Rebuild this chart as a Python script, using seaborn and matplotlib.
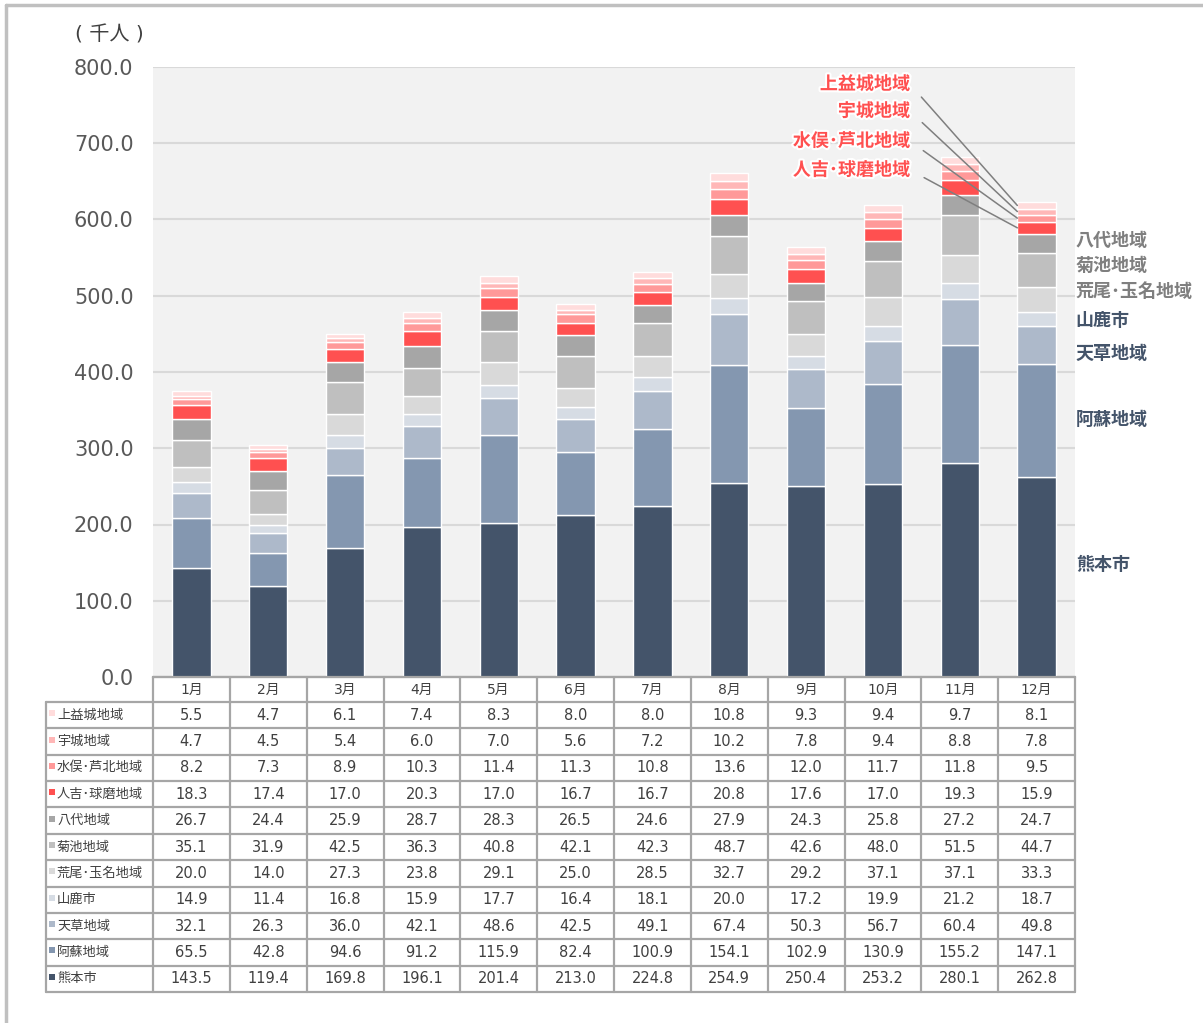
import numpy as np
import pandas as pd
import matplotlib
matplotlib.use("Agg")
import matplotlib.pyplot as plt
from matplotlib.lines import Line2D
import matplotlib.patheffects as pe
import seaborn as sns

# ---------------- data ----------------
months = ["1月", "2月", "3月", "4月", "5月", "6月", "7月", "8月", "9月", "10月", "11月", "12月"]

# stacking order: bottom -> top
regions = ["熊本市", "阿蘇地域", "天草地域", "山鹿市", "荒尾･玉名地域", "菊池地域",
           "八代地域", "人吉･球磨地域", "水俣･芦北地域", "宇城地域", "上益城地域"]

kumamoto    = [143.5, 119.4, 169.8, 196.1, 201.4, 213.0, 224.8, 254.9, 250.4, 253.2, 280.1, 262.8]
aso         = [65.5, 42.8, 94.6, 91.2, 115.9, 82.4, 100.9, 154.1, 102.9, 130.9, 155.2, 147.1]
amakusa     = [32.1, 26.3, 36.0, 42.1, 48.6, 42.5, 49.1, 67.4, 50.3, 56.7, 60.4, 49.8]
yamaga      = [14.9, 11.4, 16.8, 15.9, 17.7, 16.4, 18.1, 20.0, 17.2, 19.9, 21.2, 18.7]
arao_tamana = [20.0, 14.0, 27.3, 23.8, 29.1, 25.0, 28.5, 32.7, 29.2, 37.1, 37.1, 33.3]
kikuchi     = [35.1, 31.9, 42.5, 36.3, 40.8, 42.1, 42.3, 48.7, 42.6, 48.0, 51.5, 44.7]
yatsushiro  = [26.7, 24.4, 25.9, 28.7, 28.3, 26.5, 24.6, 27.9, 24.3, 25.8, 27.2, 24.7]
hitoyoshi   = [18.3, 17.4, 17.0, 20.3, 17.0, 16.7, 16.7, 20.8, 17.6, 17.0, 19.3, 15.9]
minamata    = [8.2, 7.3, 8.9, 10.3, 11.4, 11.3, 10.8, 13.6, 12.0, 11.7, 11.8, 9.5]
uki         = [4.7, 4.5, 5.4, 6.0, 7.0, 5.6, 7.2, 10.2, 7.8, 9.4, 8.8, 7.8]
kamimashiki = [5.5, 4.7, 6.1, 7.4, 8.3, 8.0, 8.0, 10.8, 9.3, 9.4, 9.7, 8.1]

series = [kumamoto, aso, amakusa, yamaga, arao_tamana, kikuchi,
          yatsushiro, hitoyoshi, minamata, uki, kamimashiki]

colors = ["#44546a", "#8497b0", "#adb9ca", "#d6dce4", "#d9d9d9", "#bfbfbf",
          "#a6a6a6", "#ff5050", "#ff9999", "#ffb7b7", "#ffdcdc"]

yticks = [0, 100, 200, 300, 400, 500, 600, 700, 800]

# ---------------- style ----------------
sns.set_theme(style="white")
plt.rcParams["font.family"] = ["DejaVu Sans", "Noto Sans CJK JP"]
CJK = ["Noto Sans CJK JP", "DejaVu Sans"]

W, H = 1203, 1023
fig = plt.figure(figsize=(W / 100, H / 100), dpi=100)
fig.patch.set_facecolor("white")

PL, PR, PT, PB = 153, 1075, 67, 677   # plot area in pixels
ax = fig.add_axes([PL / W, 1 - PB / H, (PR - PL) / W, (PB - PT) / H])
ax.set_facecolor("#f2f2f2")

df = pd.DataFrame({"month": months})
bottom = np.zeros(len(months))
for name, vals, col in zip(regions, series, colors):
    df["v"] = vals
    sns.barplot(data=df, x="month", y="v", order=months, color=col, saturation=1,
                width=0.5, bottom=bottom, edgecolor="white", linewidth=1.0,
                ax=ax, zorder=3)
    bottom = bottom + np.array(vals)

ax.set_xlim(-0.5, len(months) - 0.5)
ax.set_ylim(0, 800)
ax.set_yticks(yticks)
ax.set_yticklabels([f"{t:.1f}" for t in yticks], fontsize=15, color="#595959")
ax.tick_params(axis="y", length=0, pad=14)
ax.set_xticks([])
ax.set_xlabel("")
ax.set_ylabel("")
ax.grid(axis="y", color="#d9d9d9", linewidth=1.5, zorder=0)
ax.set_axisbelow(True)
for s in ["left", "right", "top"]:
    ax.spines[s].set_visible(False)
ax.spines["bottom"].set_color("#8c8c8c")
ax.spines["bottom"].set_linewidth(1.5)

# unit label
fig.text(75 / W, 1 - 35 / H, "( 千人 )", fontsize=14.5, color="#404040", va="center",
         ha="left")

# ---------------- right side labels ----------------
last = len(months) - 1
cum_last = np.cumsum([s[last] for s in series])
mids_last = cum_last - np.array([s[last] for s in series]) / 2

right_labels = {"熊本市": 147, "阿蘇地域": 338, "天草地域": 424, "山鹿市": 467,
                "荒尾･玉名地域": 506, "菊池地域": 540, "八代地域": 572}
for name, ypos in right_labels.items():
    col = "#44546a" if name in ("熊本市", "阿蘇地域", "天草地域", "山鹿市") else "#7f7f7f"
    ax.text(last + 0.51, ypos, name, ha="left", va="center", fontsize=13,
            fontweight="bold", color=col, clip_on=False, family=CJK)

# red labels with leader lines
red_labels = {"上益城地域": 777.7, "宇城地域": 742.3, "水俣･芦北地域": 703.0, "人吉･球磨地域": 665.0}
for name, ypos in red_labels.items():
    i = regions.index(name)
    ax.annotate(name, xy=(last - 0.25, mids_last[i]), xytext=(9.35, ypos),
                textcoords="data", ha="right", va="center", fontsize=13,
                fontweight="bold", color="#ff5050", zorder=5, family=CJK,
                path_effects=[pe.withStroke(linewidth=3, foreground="white")],
                arrowprops=dict(arrowstyle="-", color="#7f7f7f", lw=1.1,
                                relpos=(1, 0.5), shrinkA=9, shrinkB=0))

# ---------------- data table ----------------
TL, TR, TT, TB = 46, 1075, 677, 992
tab = fig.add_axes([TL / W, 1 - TB / H, (TR - TL) / W, (TB - TT) / H])
tab.set_xlim(TL, TR)
tab.set_ylim(TB, TT)
tab.axis("off")

ncol = len(months)
col_edges = PL + np.arange(ncol + 1) * (PR - PL) / ncol
col_cent = (col_edges[:-1] + col_edges[1:]) / 2
hdr_bottom = 702
nrow = len(regions)
row_edges = hdr_bottom + np.arange(nrow + 1) * (TB - hdr_bottom) / nrow
row_cent = (row_edges[:-1] + row_edges[1:]) / 2

gcol = "#a6a6a6"
glw = 1.6
tab.plot([PL, PR], [TT, TT], color=gcol, lw=glw, clip_on=False)
for y in row_edges:
    tab.plot([TL, PR], [y, y], color=gcol, lw=glw, clip_on=False)
tab.plot([TL, TL], [hdr_bottom, TB], color=gcol, lw=glw, clip_on=False)
for x in col_edges:
    tab.plot([x, x], [TT, TB], color=gcol, lw=glw, clip_on=False)

for j, m in enumerate(months):
    tab.text(col_cent[j], (TT + hdr_bottom) / 2, m, ha="center", va="center",
             fontsize=10, color="#404040")

table_order = list(range(nrow))[::-1]   # top row = top of stack
for r, i in enumerate(table_order):
    yc = row_cent[r]
    tab.plot([TL + 6], [yc - 2], marker="s", markersize=4, color=colors[i],
             markeredgewidth=0, clip_on=False)
    tab.text(TL + 11, yc, regions[i], ha="left", va="center", fontsize=9.5,
             color="#404040", family=CJK)
    for j in range(ncol):
        tab.text(col_cent[j], yc, f"{series[i][j]:.1f}", ha="center", va="center",
                 fontsize=10.5, color="#404040")

# outer frame (top and left)
fig.add_artist(Line2D([6 / W, 1], [1 - 5 / H, 1 - 5 / H], transform=fig.transFigure,
                      color="#c0c0c0", lw=2.5))
fig.add_artist(Line2D([6 / W, 6 / W], [0, 1 - 5 / H], transform=fig.transFigure,
                      color="#c0c0c0", lw=2.5))

fig.savefig("out.png", dpi=100, facecolor="white")
